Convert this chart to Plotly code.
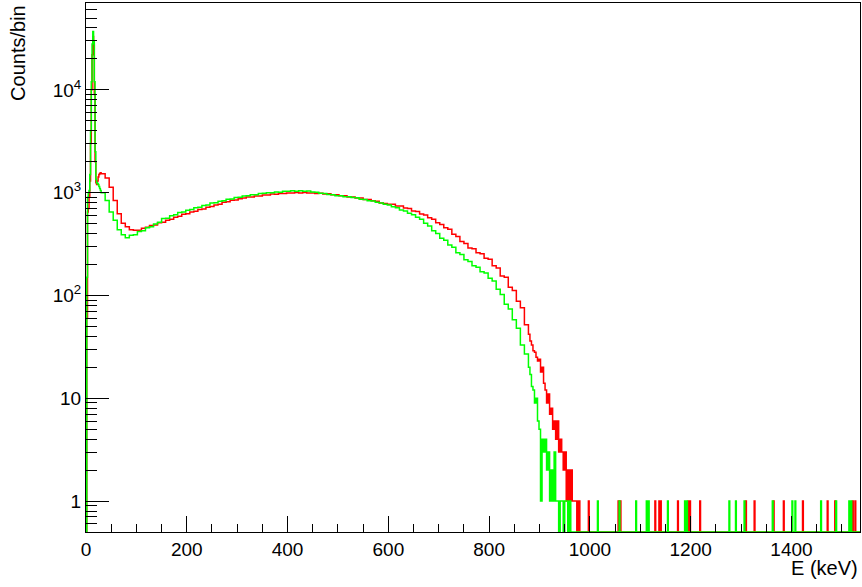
import math
import plotly.graph_objects as go

# ---------------- data ----------------
# Peak region: 1.5 keV bins starting at 0 keV
peak_start_keV = 0.0
peak_bin_keV = 1.5
peak_red = [0, 60, 650, 700, 900, 1300, 3000, 10000, 22000, 33000,
            28000, 9000, 2000, 1250, 1200, 1300, 1420, 1500, 1540, 1560]
peak_green = [0, 150, 900, 1000, 1050, 1500, 4000, 12000, 28000, 37000,
              30000, 12000, 2500, 1350, 1250, 1230, 1200, 1150, 1100, 1050]

# Continuum: 8 keV bins starting at 30 keV
body_start_keV = 30.0
body_bin_keV = 8.0
body_red = [1530, 1390, 1130, 840, 625, 505, 465, 435, 432, 430,
            450, 460, 480, 485, 510, 515, 540, 550, 575, 590,
            615, 625, 650, 660, 685, 695, 720, 735, 760, 770,
            805, 815, 845, 850, 875, 885, 910, 910, 930, 930,
            950, 950, 970, 965, 980, 980, 995, 990, 1005, 995,
            1005, 990, 995, 980, 985, 970, 975, 955, 955, 935,
            935, 910, 910, 885, 885, 860, 860, 835, 825, 795,
            785, 770, 770, 740, 740, 710, 700, 665, 655, 620,
            605, 570, 550, 510, 490, 455, 440, 395, 375, 335,
            320, 290, 285, 260, 255, 230, 225, 195, 185, 155,
            150, 120, 112, 88, 76, 52]
body_green = [1000, 840, 650, 540, 435, 390, 365, 385, 390, 420,
              425, 455, 465, 495, 515, 560, 565, 595, 610, 640,
              650, 675, 685, 715, 720, 750, 760, 795, 800, 825,
              835, 865, 870, 895, 900, 930, 935, 955, 955, 980,
              985, 1000, 1000, 1015, 1010, 1035, 1030, 1045, 1035, 1045,
              1030, 1040, 1015, 1010, 985, 980, 960, 955, 935, 935,
              915, 915, 895, 890, 865, 860, 835, 830, 805, 795,
              770, 760, 730, 715, 680, 665, 630, 610, 575, 550,
              505, 475, 425, 400, 360, 345, 310, 295, 260, 250,
              222, 214, 195, 188, 170, 165, 147, 138, 115, 102,
              82, 74, 58, 48, 33, 27]

# Falling edge: 3 keV bins starting at 878 keV
tail_start_keV = 878.0
tail_bin_keV = 3.0
tail_red = [42, 36, 33, 29, 28, 25, 23, 24, 18, 20,
            14, 12, 9, 11, 7, 8, 5, 6, 4, 6,
            3, 4, 3, 2, 3, 1, 2, 1, 2, 1,
            1, 1, 0, 1, 0, 0, 0, 0, 0, 0]
tail_green = [20, 17, 13, 12, 9, 10, 6, 5, 1, 4,
              3, 4, 2, 3, 1, 2, 1, 3, 1, 1,
              0, 1, 1, 0, 1, 1, 0, 1, 0, 0,
              0, 0, 0, 0, 0, 0, 0, 0, 0, 0]

# Isolated single-count bins (keV) above the end point
single_bin_keV = 1.5
single_red = [997, 1056, 1060, 1129, 1137, 1140, 1174, 1195, 1198, 1218,
              1309, 1326, 1364, 1384, 1422, 1471, 1486, 1521, 1526]
single_green = [1015, 1058, 1091, 1112, 1116, 1154, 1188, 1192, 1276, 1289,
                1306, 1362, 1401, 1407, 1458, 1488, 1514, 1518]

x_max_keV = 1536.0
y_min, y_max = 0.5, 70000.0

x_ticks = [0, 200, 400, 600, 800, 1000, 1200, 1400]
y_tickvals = [1, 10, 100, 1000, 10000]
y_ticktext = ["1", "10", "10<sup>2</sup>", "10<sup>3</sup>", "10<sup>4</sup>"]

x_title = "E (keV)"
y_title = "Counts/bin"


# ---------------- build step histograms ----------------
def build_steps(peak, body, tail, singles):
    xs, ys = [], []
    def level(v):
        return v if v > 0 else y_min
    for start, width, vals in ((peak_start_keV, peak_bin_keV, peak),
                               (body_start_keV, body_bin_keV, body),
                               (tail_start_keV, tail_bin_keV, tail)):
        for i, v in enumerate(vals):
            xs.append(start + i * width)
            ys.append(level(v))
    xs.append(tail_start_keV + len(tail) * tail_bin_keV)
    ys.append(y_min)
    for e in singles:
        xs.append(e)
        ys.append(1)
        xs.append(e + single_bin_keV)
        ys.append(y_min)
    xs.append(x_max_keV)
    ys.append(y_min)
    return xs, ys


rx, ry = build_steps(peak_red, body_red, tail_red, single_red)
gx, gy = build_steps(peak_green, body_green, tail_green, single_green)

fig = go.Figure()
fig.add_trace(go.Scatter(x=rx, y=ry, mode="lines", line_shape="hv",
                         line=dict(color="#ff0000", width=1.5),
                         showlegend=False, hoverinfo="skip"))
fig.add_trace(go.Scatter(x=gx, y=gy, mode="lines", line_shape="hv",
                         line=dict(color="#00ff00", width=1.5),
                         showlegend=False, hoverinfo="skip"))

minor_y = []
for d in range(-1, 5):
    for k in range(2, 10):
        v = k * 10 ** d
        if y_min < v < y_max:
            minor_y.append(v)

font_family = "Liberation Sans, Arial, Helvetica, sans-serif"

fig.update_layout(
    width=862, height=587,
    margin=dict(l=86, r=2, t=3, b=55),
    paper_bgcolor="white", plot_bgcolor="white",
    font=dict(family=font_family, size=19, color="black"),
    xaxis=dict(
        range=[0, x_max_keV], tickvals=x_ticks, ticks="inside", ticklen=16,
        tickwidth=1, tickcolor="black", showgrid=False, zeroline=False,
        showline=True, linecolor="black", linewidth=1, mirror=True,
        minor=dict(dtick=50, tick0=0, ticks="inside", ticklen=8,
                   tickcolor="black", tickwidth=1, showgrid=False),
        tickfont=dict(size=19),
    ),
    yaxis=dict(
        type="log", range=[math.log10(y_min), math.log10(y_max)],
        tickvals=y_tickvals, ticktext=y_ticktext, ticks="inside",
        ticklen=23, tickwidth=1, tickcolor="black", showgrid=False,
        zeroline=False, showline=True, linecolor="black", linewidth=1,
        mirror=True,
        minor=dict(tickvals=minor_y, ticks="inside", ticklen=11,
                   tickcolor="black", tickwidth=1, showgrid=False),
        tickfont=dict(size=19),
    ),
    annotations=[
        dict(text=x_title, xref="paper", yref="paper", x=1.0, y=-0.068,
             xanchor="right", yanchor="middle", showarrow=False,
             font=dict(size=20)),
        dict(text=y_title, xref="paper", yref="paper", x=-0.088, y=1.0,
             xanchor="center", yanchor="top", textangle=-90,
             showarrow=False, font=dict(size=20)),
    ],
)

fig.write_html("out.html",
               config={"displayModeBar": False},
               post_script="document.body.style.margin='0';"
                           "document.body.style.overflow='hidden';")
